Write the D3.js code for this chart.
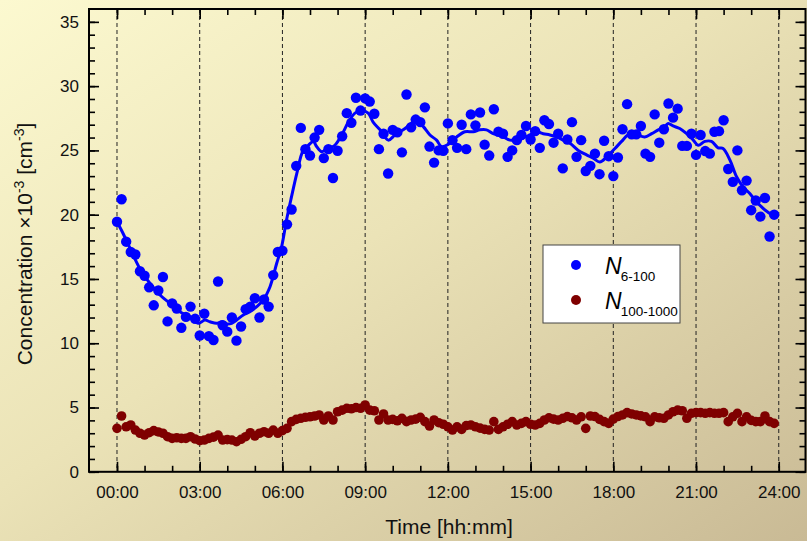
<!DOCTYPE html>
<html>
<head>
<meta charset="utf-8">
<script src="https://cdn.jsdelivr.net/npm/d3@7"></script>
<style>
  body { margin: 0; padding: 0; }
  svg { display: block; font-family: Arial, "Liberation Sans", sans-serif; }
</style>
</head>
<body>
<div id="chart"></div>
<script>
// N 6-100, one point every 10 min from 00:00 to 23:50 (x 10^3 cm^-3)
var n6_100 = [
  19.45, 21.2, 17.9, 17.1, 16.9, 15.6, 15.25, 14.35, 12.95, 14.1,
  15.15, 11.7, 13.1, 12.7, 11.2, 12.05, 12.85, 11.9, 10.6, 12.3,
  10.55, 10.25, 14.8, 11.4, 10.9, 12.0, 10.2, 11.3, 12.65, 12.85,
  13.5, 12.0, 13.4, 12.85, 15.3, 17.1, 17.2, 19.25, 20.4, 23.8,
  26.75, 25.1, 24.6, 26.0, 26.6, 24.4, 25.1, 22.85, 24.97, 26.1,
  27.9, 27.15, 29.1, 28.1, 29.05, 28.8, 27.85, 25.1, 26.3, 23.2,
  26.6, 26.4, 24.85, 29.35, 26.8, 27.4, 27.2, 28.35, 25.3, 24.05,
  25.0, 24.97, 27.1, 25.8, 25.2, 27.0, 25.1, 27.8, 26.95, 27.95,
  25.45, 24.6, 28.2, 26.45, 26.3, 24.5, 25.0, 25.8, 26.2, 26.9,
  25.85, 26.5, 25.2, 27.35, 27.05, 25.6, 26.3, 23.6, 25.85, 27.2,
  24.5, 25.8, 23.4, 23.8, 24.75, 23.15, 25.75, 24.55, 23.0, 24.45,
  26.65, 28.6, 26.25, 26.25, 26.9, 24.75, 24.5, 27.8, 25.6, 26.65,
  28.65, 27.55, 28.25, 25.35, 25.35, 26.3, 24.65, 26.2, 24.95, 24.75,
  26.45, 26.5, 27.35, 23.55, 22.55, 25.0, 21.9, 22.65, 20.35, 21.1,
  19.85, 21.3, 18.3, 20.0
];

// N 100-1000, same time steps
var n100_1000 = [
  3.38, 4.34, 3.5, 3.64, 3.25, 3.0, 2.86, 3.04, 3.2, 3.1,
  3.0, 2.73, 2.6, 2.65, 2.6, 2.6, 2.73, 2.55, 2.42, 2.47,
  2.6, 2.7, 2.86, 2.47, 2.5, 2.47, 2.34, 2.53, 2.73, 3.04,
  2.78, 3.0, 3.12, 3.0, 3.25, 3.0, 3.2, 3.38, 3.9, 4.08,
  4.16, 4.24, 4.28, 4.34, 4.42, 4.03, 4.34, 4.03, 4.67, 4.8,
  4.94, 4.9, 5.0, 4.94, 5.2, 4.8, 4.75, 4.03, 4.5, 4.03,
  4.08, 3.97, 4.16, 3.9, 4.03, 4.1, 4.24, 3.9, 3.56, 4.03,
  3.82, 3.7, 3.5, 3.25, 3.5, 3.3, 3.6, 3.64, 3.5, 3.4,
  3.3, 3.25, 3.9, 3.3, 3.5, 3.7, 3.9, 3.64, 3.77, 3.9,
  3.7, 3.64, 3.77, 4.03, 4.2, 4.1, 4.03, 4.16, 4.3, 4.2,
  4.03, 4.28, 3.38, 4.34, 4.3, 4.08, 3.9, 3.77, 4.1, 4.3,
  4.42, 4.6, 4.5, 4.42, 4.35, 4.28, 3.9, 4.28, 4.2, 4.16,
  4.42, 4.67, 4.8, 4.75, 4.16, 4.55, 4.6, 4.6, 4.55, 4.6,
  4.55, 4.55, 4.6, 3.9, 4.28, 4.55, 3.9, 4.28, 4.0, 3.9,
  3.9, 4.34, 3.9, 3.77
];

// smoothed N 6-100 curve
var smoothHours = [
  0.0, 0.23, 0.47, 0.83, 1.2, 1.56, 1.92, 2.28, 2.65, 2.95,
  3.19, 3.37, 3.61, 3.8, 3.98, 4.16, 4.34, 4.58, 4.82, 5.07,
  5.3, 5.55, 5.79, 5.97, 6.15, 6.33, 6.52, 6.75, 6.94, 7.12,
  7.24, 7.42, 7.66, 7.9, 8.15, 8.39, 8.63, 8.87, 9.11, 9.29,
  9.54, 9.84, 10.08, 10.38, 10.62, 10.87, 11.11, 11.35, 11.59, 11.77,
  12.07, 12.32, 12.62, 12.92, 13.16, 13.4, 13.64, 13.89, 14.25, 14.61,
  14.97, 15.22, 15.46, 15.7, 15.94, 16.18, 16.43, 16.73, 17.03, 17.27,
  17.51, 17.76, 18.06, 18.3, 18.54, 18.84, 19.14, 19.39, 19.63, 19.87,
  19.99, 20.17, 20.41, 20.66, 20.9, 21.08, 21.32, 21.56, 21.8, 21.98,
  22.23, 22.47, 22.71, 22.95, 23.19, 23.43, 23.68, 23.86
];
var smoothValues = [
  19.45, 18.5, 17.4, 15.8, 14.65, 13.75, 13.1, 12.45, 12.05, 11.55,
  11.8, 11.67, 11.55, 11.67, 11.5, 11.55, 11.8, 12.2, 12.45, 12.85,
  13.35, 14.4, 16.2, 17.5, 19.6, 21.4, 23.2, 25.0, 25.4, 25.7,
  25.3, 24.9, 25.15, 25.4, 26.2, 27.2, 27.9, 28.1, 27.9, 27.2,
  26.6, 25.8, 26.2, 26.6, 27.0, 27.35, 26.85, 26.2, 25.8, 25.3,
  25.55, 26.05, 26.45, 26.45, 26.6, 26.6, 26.3, 26.2, 25.8, 25.9,
  26.2, 26.45, 26.3, 26.2, 26.05, 25.8, 25.55, 25.0, 24.65, 24.4,
  24.1, 24.5, 25.15, 25.7, 26.2, 26.2, 26.05, 26.3, 26.6, 26.85,
  27.1, 26.9, 26.7, 26.3, 25.8, 25.4, 25.7, 25.7, 25.2, 25.15,
  24.25, 22.95, 22.15, 21.65, 21.0, 20.5, 20.1, 20.0
];

var xTicks = [0, 3, 6, 9, 12, 15, 18, 21, 24];
var yTicks = [0, 5, 10, 15, 20, 25, 30, 35];

var width = 807, height = 541;
var plot = { left: 89, right: 805.5, top: 9, bottom: 471.8 };

var svg = d3.select("#chart").append("svg")
  .attr("width", width)
  .attr("height", height);

// background gradient
var defs = svg.append("defs");
var grad = defs.append("linearGradient")
  .attr("id", "bg")
  .attr("x1", "0").attr("y1", "0")
  .attr("x2", "1").attr("y2", "1");
grad.append("stop").attr("offset", "0%").attr("stop-color", "#fcf9d0");
grad.append("stop").attr("offset", "45%").attr("stop-color", "#ebe3b7");
grad.append("stop").attr("offset", "100%").attr("stop-color", "#c9ba95");

svg.append("rect")
  .attr("width", width).attr("height", height)
  .attr("fill", "url(#bg)");

var x = d3.scaleLinear().domain([-1.015, 24.97]).range([plot.left, plot.right]);
var y = d3.scaleLinear().domain([0, 36]).range([plot.bottom, plot.top]);

// dashed vertical grid
svg.append("g")
  .selectAll("line")
  .data(xTicks)
  .enter().append("line")
  .attr("x1", function(d) { return x(d); })
  .attr("x2", function(d) { return x(d); })
  .attr("y1", plot.top)
  .attr("y2", plot.bottom)
  .attr("stroke", "#222")
  .attr("stroke-width", 1)
  .attr("stroke-dasharray", "4,3");

function pad(h) { return (h < 10 ? "0" : "") + h + ":00"; }

var minorX = d3.range(0, 25, 1);
var minorY = d3.range(0, 36, 1);

// bottom axis (ticks inside)
svg.append("g")
  .attr("transform", "translate(0," + plot.bottom + ")")
  .call(d3.axisBottom(x).tickValues(xTicks).tickFormat(pad).tickSizeInner(-10).tickSizeOuter(0).tickPadding(14));
svg.append("g")
  .attr("transform", "translate(0," + plot.bottom + ")")
  .call(d3.axisBottom(x).tickValues(minorX).tickFormat("").tickSizeInner(-6).tickSizeOuter(0));
// top axis
svg.append("g")
  .attr("transform", "translate(0," + plot.top + ")")
  .call(d3.axisTop(x).tickValues(xTicks).tickFormat("").tickSizeInner(-10).tickSizeOuter(0));
svg.append("g")
  .attr("transform", "translate(0," + plot.top + ")")
  .call(d3.axisTop(x).tickValues(minorX).tickFormat("").tickSizeInner(-6).tickSizeOuter(0));

// left axis
svg.append("g")
  .attr("transform", "translate(" + plot.left + ",0)")
  .call(d3.axisLeft(y).tickValues(yTicks).tickSizeInner(-10).tickSizeOuter(0).tickPadding(10));
svg.append("g")
  .attr("transform", "translate(" + plot.left + ",0)")
  .call(d3.axisLeft(y).tickValues(minorY).tickFormat("").tickSizeInner(-6).tickSizeOuter(0));
// right axis
svg.append("g")
  .attr("transform", "translate(" + plot.right + ",0)")
  .call(d3.axisRight(y).tickValues(yTicks).tickFormat("").tickSizeInner(-10).tickSizeOuter(0));
svg.append("g")
  .attr("transform", "translate(" + plot.right + ",0)")
  .call(d3.axisRight(y).tickValues(minorY).tickFormat("").tickSizeInner(-6).tickSizeOuter(0));

svg.selectAll(".domain").remove();
svg.selectAll(".tick line").attr("stroke", "#000").attr("stroke-width", 1.6);
svg.selectAll(".tick text")
  .attr("fill", "#111")
  .style("font-size", "17px")
  .style("font-family", "Arial, 'Liberation Sans', sans-serif");

// plot frame
svg.append("rect")
  .attr("x", plot.left).attr("y", plot.top)
  .attr("width", plot.right - plot.left)
  .attr("height", plot.bottom - plot.top)
  .attr("fill", "none")
  .attr("stroke", "#000")
  .attr("stroke-width", 2);

// maroon points
svg.append("g")
  .selectAll("circle")
  .data(n100_1000)
  .enter().append("circle")
  .attr("cx", function(d, i) { return x(i / 6); })
  .attr("cy", function(d) { return y(d); })
  .attr("r", 4.8)
  .attr("fill", "#7f0000");

// blue points
svg.append("g")
  .selectAll("circle")
  .data(n6_100)
  .enter().append("circle")
  .attr("cx", function(d, i) { return x(i / 6); })
  .attr("cy", function(d) { return y(d); })
  .attr("r", 5.2)
  .attr("fill", "#0000ff");

// smoothed line
var line = d3.line()
  .x(function(d) { return x(d[0]); })
  .y(function(d) { return y(d[1]); })
  .curve(d3.curveCatmullRom.alpha(0.5));

svg.append("path")
  .datum(d3.zip(smoothHours, smoothValues))
  .attr("d", line)
  .attr("fill", "none")
  .attr("stroke", "#0000ff")
  .attr("stroke-width", 3)
  .attr("stroke-linejoin", "round");

// axis titles
svg.append("text")
  .attr("x", 449).attr("y", 534)
  .attr("text-anchor", "middle")
  .style("font-size", "21px")
  .attr("fill", "#111")
  .text("Time [hh:mm]");

var yl = svg.append("text")
  .attr("transform", "translate(32,244) rotate(-90)")
  .attr("text-anchor", "middle")
  .style("font-size", "21px")
  .attr("fill", "#111");
yl.append("tspan").text("Concentration \u00d710");
yl.append("tspan").attr("dy", -8).style("font-size", "14px").text("-3");
yl.append("tspan").attr("dy", 8).text(" [cm");
yl.append("tspan").attr("dy", -8).style("font-size", "14px").text("-3");
yl.append("tspan").attr("dy", 8).text("]");

// legend
var legend = svg.append("g");
legend.append("rect")
  .attr("x", 543).attr("y", 245)
  .attr("width", 137).attr("height", 78)
  .attr("fill", "#fff")
  .attr("stroke", "#444")
  .attr("stroke-width", 1);

var legendItems = [
  { color: "#0000ff", sub: "6-100", cy: 265 },
  { color: "#7f0000", sub: "100-1000", cy: 300 }
];
legendItems.forEach(function(item) {
  legend.append("circle")
    .attr("cx", 576).attr("cy", item.cy)
    .attr("r", 5)
    .attr("fill", item.color);
  var t = legend.append("text")
    .attr("x", 605).attr("y", item.cy + 9)
    .attr("fill", "#000");
  t.append("tspan").style("font-size", "23px").style("font-style", "italic").text("N");
  t.append("tspan").attr("dy", 7).attr("dx", -1).style("font-size", "13.5px").text(item.sub);
});
</script>
</body>
</html>
